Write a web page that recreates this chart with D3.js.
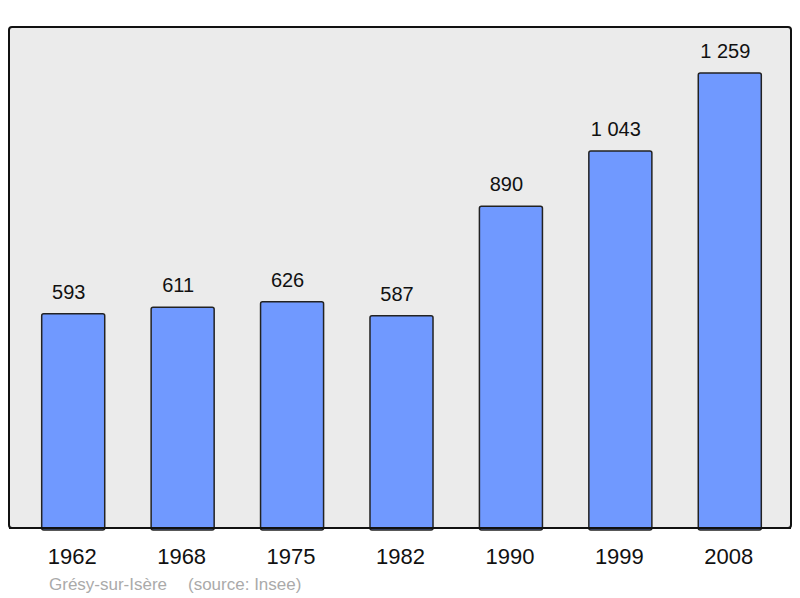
<!DOCTYPE html>
<html>
<head>
<meta charset="utf-8">
<script src="https://cdn.jsdelivr.net/npm/d3@7"></script>
<style>
  body { margin: 0; background: #fff; }
  text { font-family: "Liberation Sans", Arial, sans-serif; }
</style>
</head>
<body>
<svg id="chart" width="800" height="598"></svg>
<script>
var years = ["1962", "1968", "1975", "1982", "1990", "1999", "2008"];
var population = [593, 611, 626, 587, 890, 1043, 1259];
var commune = "Grésy-sur-Isère";
var source = "(source: Insee)";

var svg = d3.select("#chart");

// panel
var pLeft = 9, pTop = 27, pRight = 791, pBottom = 528;

svg.append("rect")
  .attr("x", pLeft).attr("y", pTop)
  .attr("width", pRight - pLeft).attr("height", pBottom - pTop)
  .attr("rx", 3).attr("ry", 3)
  .style("fill", "#ebebeb")
  .style("stroke", "#111")
  .style("stroke-width", 2);

var x = d3.scaleBand()
  .domain(years)
  .range([18.5, 784.5])
  .paddingInner(0.424)
  .paddingOuter(0.212);

var y = d3.scaleLinear().domain([0, 1386]).range([pBottom, pTop]);

var fmt = function(v) { return d3.format(",")(v).replace(/,/g, " "); };

svg.append("g")
  .selectAll("rect")
  .data(population)
  .enter()
  .append("rect")
  .attr("x", function(d, i) { return x(years[i]); })
  .attr("y", function(d) { return y(d); })
  .attr("width", x.bandwidth())
  .attr("height", function(d) { return pBottom - y(d) + 2; })
  .attr("rx", 2).attr("ry", 2)
  .style("fill", "#7099ff")
  .style("stroke", "#222")
  .style("stroke-width", 1.5);

// redraw bottom border over bars
svg.append("line")
  .attr("x1", pLeft).attr("x2", pRight)
  .attr("y1", pBottom).attr("y2", pBottom)
  .style("stroke", "#111").style("stroke-width", 2);

svg.append("g")
  .selectAll("text")
  .data(population)
  .enter()
  .append("text")
  .attr("x", function(d, i) { return x(years[i]) + x.bandwidth() / 2; })
  .attr("y", function(d) { return y(d) - 15; })
  .attr("dx", -4.5)
  .attr("text-anchor", "middle")
  .attr("font-size", "20px")
  .style("fill", "#111")
  .text(function(d) { return fmt(d); });

svg.append("g")
  .selectAll("text")
  .data(years)
  .enter()
  .append("text")
  .attr("x", function(d) { return x(d) + x.bandwidth() / 2; })
  .attr("y", 564)
  .attr("dx", -1)
  .attr("text-anchor", "middle")
  .attr("font-size", "22px")
  .style("fill", "#111")
  .text(function(d) { return d; });

svg.append("text")
  .attr("x", 49).attr("y", 590)
  .attr("font-size", "17px")
  .style("fill", "#aaa")
  .text(commune);

svg.append("text")
  .attr("x", 188).attr("y", 590)
  .attr("font-size", "17px")
  .style("fill", "#aaa")
  .text(source);
</script>
</body>
</html>
